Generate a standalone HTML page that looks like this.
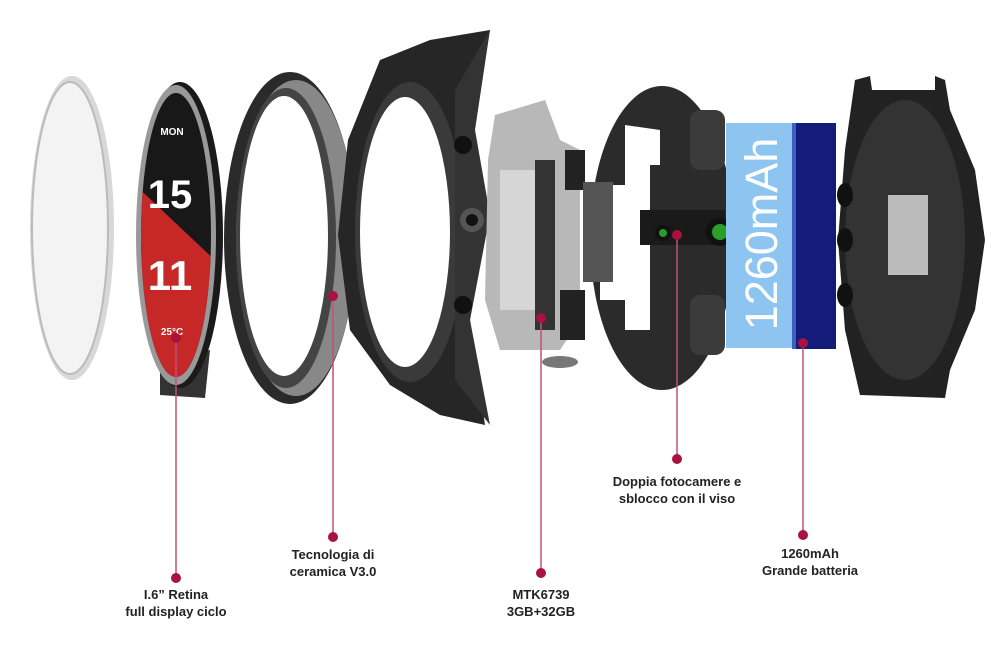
<!DOCTYPE html>
<html><head><meta charset="utf-8"><style>
body{margin:0;background:#fff;width:1000px;height:645px;overflow:hidden}
svg{display:block}
.t{font-family:"Liberation Sans",sans-serif;font-size:13px;font-weight:bold;fill:#222;text-anchor:middle}
</style></head><body>
<svg width="1000" height="645" viewBox="0 0 1000 645">
<!-- glass -->
<ellipse cx="72" cy="228" rx="42" ry="152" fill="#d8d8d8"/>
<ellipse cx="70" cy="228" rx="38" ry="146" fill="#f3f3f3" stroke="#bbb" stroke-width="2"/>
<!-- display -->
<path d="M160 360 L160 395 L205 398 L210 350 Z" fill="#333"/>
<ellipse cx="180" cy="235" rx="43" ry="153" fill="#1a1a1a"/>
<ellipse cx="176" cy="235" rx="40" ry="150" fill="#999"/>
<ellipse cx="176" cy="235" rx="35" ry="142" fill="#181818"/>
<clipPath id="sc"><ellipse cx="176" cy="235" rx="35" ry="142"/></clipPath>
<polygon clip-path="url(#sc)" points="130,180 220,265 220,390 130,390" fill="#c62828"/>
<g font-family="Liberation Sans,sans-serif" fill="#fff" text-anchor="middle" font-weight="bold">
<text x="172" y="135" font-size="10">MON</text>
<text x="170" y="208" font-size="40">15</text>
<text x="170" y="290" font-size="42">11</text>
<text x="172" y="335" font-size="10">25°C</text>
</g>
<!-- bezel -->
<ellipse cx="290" cy="238" rx="66" ry="166" fill="#2a2a2a"/>
<ellipse cx="296" cy="238" rx="60" ry="158" fill="#888"/>
<ellipse cx="286" cy="238" rx="50" ry="150" fill="#444"/>
<ellipse cx="284" cy="236" rx="44" ry="140" fill="#fff"/>
<!-- frame -->
<path d="M380 60 L430 40 L490 30 L470 120 L480 230 L470 320 L485 425 L440 415 L390 385 L350 330 L338 235 L348 140 Z" fill="#262626"/>
<ellipse cx="410" cy="232" rx="55" ry="150" fill="#3a3a3a"/>
<ellipse cx="405" cy="232" rx="45" ry="135" fill="#fff"/>
<path d="M455 90 L490 30 L475 130 L490 215 L470 320 L490 425 L455 380 Z" fill="#333"/>
<circle cx="472" cy="220" r="12" fill="#555"/><circle cx="472" cy="220" r="6" fill="#111"/>
<circle cx="463" cy="145" r="9" fill="#111"/><circle cx="463" cy="305" r="9" fill="#111"/>
<!-- PCB -->
<path d="M495 115 L545 100 L560 140 L580 150 L580 320 L560 350 L500 350 L485 300 L488 160 Z" fill="#b8b8b8"/>
<rect x="500" y="170" width="50" height="140" fill="#d6d6d6"/>
<rect x="535" y="160" width="20" height="170" fill="#333"/>
<rect x="565" y="150" width="20" height="40" fill="#222"/>
<rect x="560" y="290" width="25" height="50" fill="#222"/>
<ellipse cx="560" cy="362" rx="18" ry="6" fill="#777"/>
<!-- camera frame -->
<ellipse cx="662" cy="238" rx="72" ry="152" fill="#2b2b2b"/>
<path d="M625 125 L660 130 L660 165 L650 165 L650 330 L625 330 Z M600 185 L650 185 L650 300 L600 300 Z" fill="#fff"/>
<rect x="583" y="182" width="30" height="100" fill="#555"/>
<rect x="640" y="210" width="85" height="35" fill="#1a1a1a"/>
<rect x="690" y="110" width="35" height="60" rx="10" fill="#3b3b3b"/>
<rect x="690" y="295" width="35" height="60" rx="10" fill="#3b3b3b"/>
<circle cx="663" cy="233" r="8" fill="#111"/><circle cx="663" cy="233" r="4" fill="#2a9a2a"/>
<circle cx="720" cy="232" r="14" fill="#111"/><circle cx="720" cy="232" r="8" fill="#2aa02a"/>
<!-- battery -->
<rect x="726" y="123" width="70" height="225" fill="#8ec5f0"/>
<rect x="794" y="123" width="42" height="226" fill="#141c7a"/>
<rect x="792" y="123" width="4" height="226" fill="#3b62c0"/>
<text transform="translate(777,234) rotate(-90)" font-family="Liberation Sans,sans-serif" font-size="45" fill="#fff" text-anchor="middle">1260mAh</text>
<!-- back case -->
<path d="M855 80 L870 76 L872 90 L935 90 L935 76 L945 80 L950 110 L975 170 L985 240 L975 310 L950 370 L945 398 L860 395 L845 330 L838 240 L845 150 Z" fill="#222"/>
<ellipse cx="905" cy="240" rx="60" ry="140" fill="#333"/>
<rect x="888" y="195" width="40" height="80" fill="#bbb"/>
<ellipse cx="845" cy="195" rx="8" ry="12" fill="#111"/><ellipse cx="845" cy="240" rx="8" ry="12" fill="#111"/><ellipse cx="845" cy="295" rx="8" ry="12" fill="#111"/>
<!-- leaders -->
<g stroke="#c0507a" stroke-width="1.5">
<line x1="176" y1="338" x2="176" y2="578"/>
<line x1="333" y1="296" x2="333" y2="537"/>
<line x1="541" y1="318" x2="541" y2="573"/>
<line x1="677" y1="235" x2="677" y2="459"/>
<line x1="803" y1="343" x2="803" y2="535"/>
</g>
<g fill="#a8123e">
<circle cx="176" cy="338" r="5"/><circle cx="176" cy="578" r="5"/>
<circle cx="333" cy="296" r="5"/><circle cx="333" cy="537" r="5"/>
<circle cx="541" cy="318" r="5"/><circle cx="541" cy="573" r="5"/>
<circle cx="677" cy="235" r="5"/><circle cx="677" cy="459" r="5"/>
<circle cx="803" cy="343" r="5"/><circle cx="803" cy="535" r="5"/>
</g>
<text class="t" x="176" y="599">I.6” Retina</text><text class="t" x="176" y="616">full display ciclo</text>
<text class="t" x="333" y="559">Tecnologia di</text><text class="t" x="333" y="576">ceramica V3.0</text>
<text class="t" x="541" y="599">MTK6739</text><text class="t" x="541" y="616">3GB+32GB</text>
<text class="t" x="677" y="486">Doppia fotocamere e</text><text class="t" x="677" y="503">sblocco con il viso</text>
<text class="t" x="810" y="558">1260mAh</text><text class="t" x="810" y="575">Grande batteria</text>
</svg>
</body></html>
